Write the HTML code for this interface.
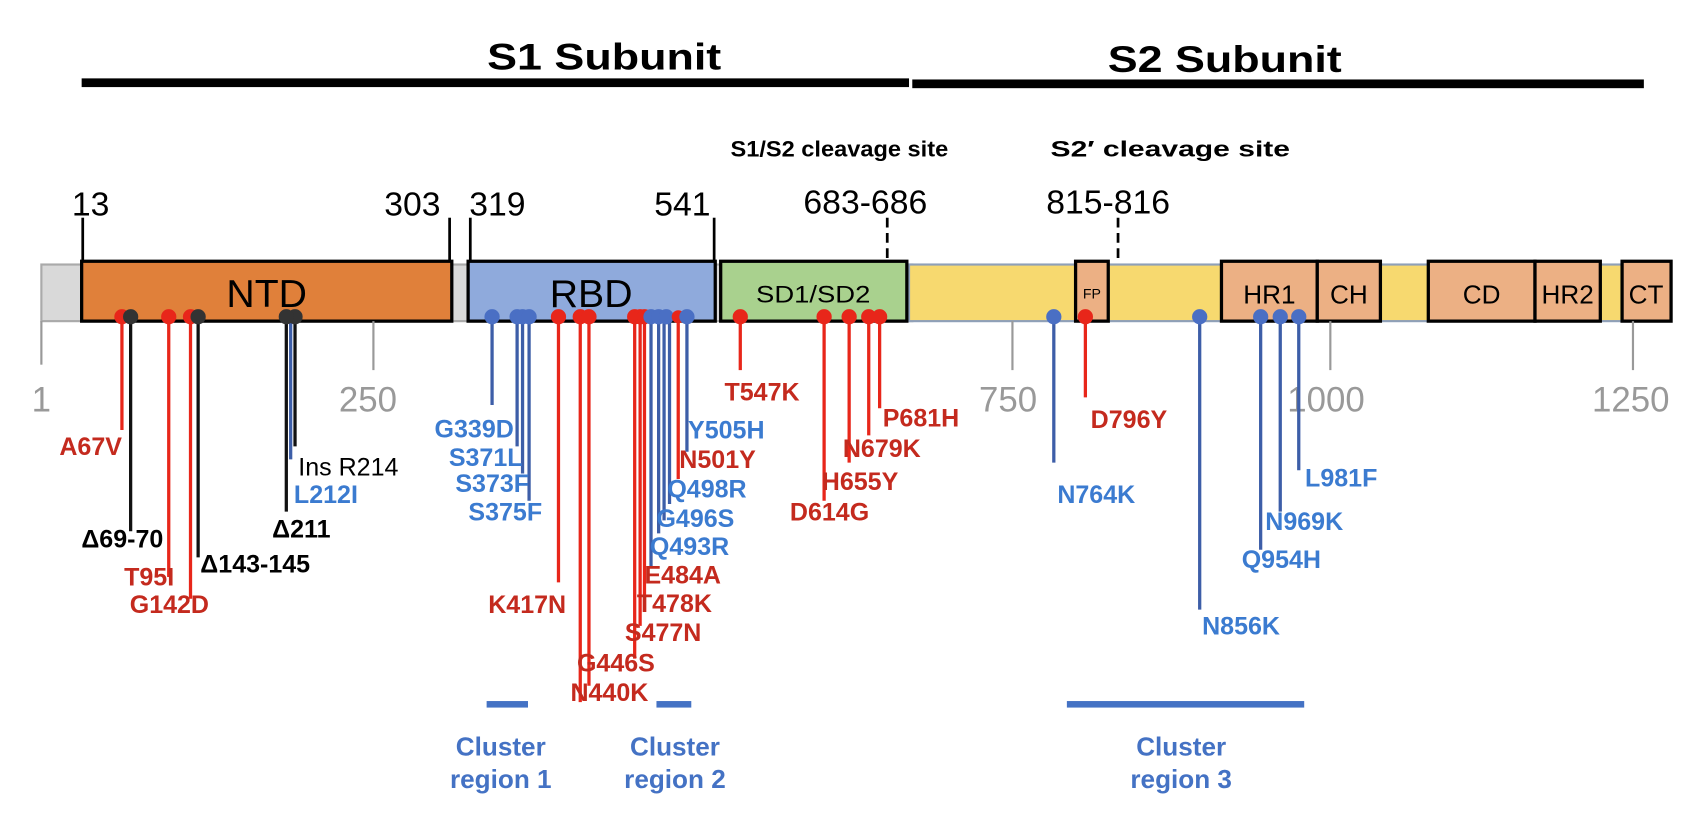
<!DOCTYPE html>
<html><head><meta charset="utf-8"><style>
html,body{margin:0;padding:0;background:#fff;}
svg{display:block;}
text{font-family:"Liberation Sans",Arial,sans-serif;}
.b{font-weight:bold;}
.r{fill:#c42a1e;font-weight:bold;font-size:23px;}
.u{fill:#3b7bd0;font-weight:bold;font-size:23px;}
.k{fill:#000;font-weight:bold;font-size:23px;}
.ax{fill:#999;font-size:32px;}
.rl{stroke:#e8261a;stroke-width:3;}
.ul{stroke:#3d5ea8;stroke-width:3;}
.kl{stroke:#111;stroke-width:3;}
.rc{fill:#e8261a;}
.uc{fill:#4a6fc4;}
.kc{fill:#333;}
</style></head><body>
<svg width="1707" height="816" viewBox="0 0 1568 749.6" preserveAspectRatio="none" xmlns="http://www.w3.org/2000/svg">
<text x="555" y="64" text-anchor="middle" class="b" font-size="34" textLength="215" lengthAdjust="spacingAndGlyphs">S1 Subunit</text>
<text x="1125" y="66" text-anchor="middle" class="b" font-size="34" textLength="215" lengthAdjust="spacingAndGlyphs">S2 Subunit</text>
<rect x="75" y="72" width="760" height="8" fill="#000"/>
<rect x="838" y="73" width="672" height="8" fill="#000"/>
<text x="771" y="144" text-anchor="middle" class="b" font-size="20" textLength="200" lengthAdjust="spacingAndGlyphs">S1/S2 cleavage site</text>
<text x="1075" y="144" text-anchor="middle" class="b" font-size="20" textLength="220" lengthAdjust="spacingAndGlyphs">S2′ cleavage site</text>

<g font-size="31" fill="#000">
<text x="66" y="198">13</text>
<text x="353" y="198">303</text>
<text x="431" y="198">319</text>
<text x="601" y="198">541</text>
<text x="738" y="196">683-686</text>
<text x="961" y="196">815-816</text>
</g>
<g stroke="#000" stroke-width="2.5">
<line x1="76" y1="200" x2="76" y2="240"/>
<line x1="413" y1="200" x2="413" y2="240"/>
<line x1="432" y1="200" x2="432" y2="240"/>
<line x1="656" y1="200" x2="656" y2="240"/>
<line x1="815" y1="200" x2="815" y2="240" stroke-dasharray="9,5"/>
<line x1="1027" y1="200" x2="1027" y2="242" stroke-dasharray="9,5"/>
</g>

<rect x="38" y="243" width="800" height="52" fill="#d9d9d9" stroke="#aaa" stroke-width="2"/>
<rect x="835" y="243" width="700" height="52" fill="#f7d96f" stroke="#8fa0b8" stroke-width="2"/>
<g stroke="#000" stroke-width="3">
<rect x="75" y="240" width="340" height="55" fill="#e0803a"/>
<rect x="430" y="240" width="227" height="55" fill="#8faadc"/>
<rect x="662" y="240" width="171" height="55" fill="#a9d18e"/>
<rect x="988" y="240" width="30" height="55" fill="#ecb084"/>
<rect x="1122" y="240" width="88" height="55" fill="#ecb084"/>
<rect x="1210" y="240" width="58" height="55" fill="#ecb084"/>
<rect x="1312" y="240" width="98" height="55" fill="#ecb084"/>
<rect x="1410" y="240" width="60" height="55" fill="#ecb084"/>
<rect x="1490" y="240" width="45" height="55" fill="#ecb084"/>
</g>
<g fill="#000">
<text x="245" y="282" text-anchor="middle" font-size="36">NTD</text>
<text x="543" y="282" text-anchor="middle" font-size="36">RBD</text>
<text x="747" y="278" text-anchor="middle" font-size="22" textLength="105" lengthAdjust="spacingAndGlyphs">SD1/SD2</text>
<text x="1003" y="274" text-anchor="middle" font-size="13">FP</text>
<text x="1166" y="279" text-anchor="middle" font-size="24">HR1</text>
<text x="1239" y="279" text-anchor="middle" font-size="24">CH</text>
<text x="1361" y="279" text-anchor="middle" font-size="24">CD</text>
<text x="1440" y="279" text-anchor="middle" font-size="24">HR2</text>
<text x="1512" y="279" text-anchor="middle" font-size="24">CT</text>
</g>

<g stroke="#999" stroke-width="2">
<line x1="38" y1="295" x2="38" y2="335"/>
<line x1="343" y1="295" x2="343" y2="340"/>
<line x1="930" y1="295" x2="930" y2="340"/>
<line x1="1222" y1="295" x2="1222" y2="340"/>
<line x1="1500" y1="295" x2="1500" y2="340"/>
</g>
<text x="38" y="378" text-anchor="middle" class="ax">1</text>
<text x="338" y="378" text-anchor="middle" class="ax">250</text>
<text x="926" y="378" text-anchor="middle" class="ax">750</text>
<text x="1218" y="378" text-anchor="middle" class="ax">1000</text>
<text x="1498" y="378" text-anchor="middle" class="ax">1250</text>

<line class="rl" x1="112" y1="292" x2="112" y2="395"/>
<line class="kl" x1="120" y1="292" x2="120" y2="488" stroke-width="2"/>
<line class="rl" x1="155" y1="292" x2="155" y2="530"/>
<line class="rl" x1="175" y1="292" x2="175" y2="550"/>
<line class="kl" x1="182" y1="292" x2="182" y2="512" stroke-width="4"/>
<line class="kl" x1="263" y1="292" x2="263" y2="470"/>
<line class="ul" x1="267" y1="292" x2="267" y2="422" stroke="#3b7bd0"/>
<line class="kl" x1="271" y1="292" x2="271" y2="410"/>
<circle class="rc" cx="112" cy="291" r="7"/><circle class="kc" cx="120" cy="291" r="7"/>
<circle class="rc" cx="155" cy="291" r="7"/><circle class="rc" cx="175" cy="291" r="7"/><circle class="kc" cx="182" cy="291" r="7"/>
<circle class="kc" cx="271" cy="291" r="7"/><circle class="kc" cx="263" cy="291" r="7"/>
<text class="r" x="112" y="418" text-anchor="end">A67V</text>
<text class="k" x="150" y="503" text-anchor="end">Δ69-70</text>
<text class="r" x="160" y="538" text-anchor="end">T95I</text>
<text class="r" x="192" y="563" text-anchor="end">G142D</text>
<text class="k" x="184" y="526">Δ143-145</text>
<text class="k" x="250" y="494">Δ211</text>
<text class="u" x="270" y="462">L212I</text>
<text x="274" y="437" font-size="23" fill="#000">Ins R214</text>

<g>
<line class="ul" x1="452" y1="292" x2="452" y2="372"/>
<line class="ul" x1="475" y1="292" x2="475" y2="410"/>
<line class="ul" x1="480" y1="292" x2="480" y2="435"/>
<line class="ul" x1="486" y1="292" x2="486" y2="460"/>
<line class="rl" x1="513" y1="292" x2="513" y2="535"/>
<line class="rl" x1="533" y1="292" x2="533" y2="645"/>
<line class="rl" x1="541" y1="292" x2="541" y2="630"/>
<line class="rl" x1="583" y1="292" x2="583" y2="605"/>
<line class="rl" x1="588" y1="292" x2="588" y2="575"/>
<line class="rl" x1="592" y1="292" x2="592" y2="548"/>
<line class="ul" x1="598" y1="292" x2="598" y2="520"/>
<line class="ul" x1="605" y1="292" x2="605" y2="490"/>
<line class="ul" x1="610" y1="292" x2="610" y2="478"/>
<line class="ul" x1="615" y1="292" x2="615" y2="463"/>
<line class="rl" x1="623" y1="292" x2="623" y2="440" stroke-width="2"/>
<line class="ul" x1="631" y1="292" x2="631" y2="415"/>
<circle class="uc" cx="452" cy="291" r="7"/><circle class="uc" cx="475" cy="291" r="7"/><circle class="uc" cx="480" cy="291" r="7"/><circle class="uc" cx="486" cy="291" r="7"/>
<circle class="rc" cx="513" cy="291" r="7"/><circle class="rc" cx="533" cy="291" r="7"/><circle class="rc" cx="541" cy="291" r="7"/>
<circle class="rc" cx="583" cy="291" r="7"/><circle class="rc" cx="588" cy="291" r="7"/><circle class="rc" cx="592" cy="291" r="7"/>
<circle class="uc" cx="598" cy="291" r="7"/><circle class="uc" cx="605" cy="291" r="7"/><circle class="uc" cx="612" cy="291" r="7"/>
<circle class="rc" cx="623" cy="291" r="6"/><circle class="uc" cx="631" cy="291" r="7"/>
</g>
<text class="u" x="472" y="402" text-anchor="end">G339D</text>
<text class="u" x="480" y="428" text-anchor="end">S371L</text>
<text class="u" x="486" y="452" text-anchor="end">S373F</text>
<text class="u" x="498" y="478" text-anchor="end">S375F</text>
<text class="r" x="520" y="563" text-anchor="end">K417N</text>
<text class="r" x="524" y="644">N440K</text>
<text class="r" x="530" y="617">G446S</text>
<text class="r" x="574" y="589">S477N</text>
<text class="r" x="585" y="562">T478K</text>
<text class="r" x="592" y="536">E484A</text>
<text class="u" x="597" y="510">Q493R</text>
<text class="u" x="603" y="484">G496S</text>
<text class="u" x="613" y="457">Q498R</text>
<text class="r" x="624" y="430">N501Y</text>
<text class="u" x="632" y="403">Y505H</text>

<line class="rl" x1="680" y1="292" x2="680" y2="340"/>
<line class="rl" x1="757" y1="292" x2="757" y2="460"/>
<line class="rl" x1="780" y1="292" x2="780" y2="425"/>
<line class="rl" x1="798" y1="292" x2="798" y2="400"/>
<line class="rl" x1="808" y1="292" x2="808" y2="375"/>
<circle class="rc" cx="680" cy="291" r="7"/><circle class="rc" cx="757" cy="291" r="7"/><circle class="rc" cx="780" cy="291" r="7"/><circle class="rc" cx="798" cy="291" r="7"/><circle class="rc" cx="808" cy="291" r="7"/>
<text class="r" x="700" y="368" text-anchor="middle">T547K</text>
<text class="r" x="762" y="478" text-anchor="middle">D614G</text>
<text class="r" x="790" y="450" text-anchor="middle">H655Y</text>
<text class="r" x="810" y="420" text-anchor="middle">N679K</text>
<text class="r" x="846" y="392" text-anchor="middle">P681H</text>

<line class="ul" x1="968" y1="292" x2="968" y2="425"/>
<line class="rl" x1="997" y1="292" x2="997" y2="365"/>
<line class="ul" x1="1102" y1="292" x2="1102" y2="560"/>
<line class="ul" x1="1158" y1="292" x2="1158" y2="505"/>
<line class="ul" x1="1176" y1="292" x2="1176" y2="470"/>
<line class="ul" x1="1193" y1="292" x2="1193" y2="432"/>
<circle class="uc" cx="968" cy="291" r="7"/><circle class="rc" cx="997" cy="291" r="7"/><circle class="uc" cx="1102" cy="291" r="7"/>
<circle class="uc" cx="1158" cy="291" r="7"/><circle class="uc" cx="1176" cy="291" r="7"/><circle class="uc" cx="1193" cy="291" r="7"/>
<text class="u" x="1007" y="462" text-anchor="middle">N764K</text>
<text class="r" x="1037" y="393" text-anchor="middle">D796Y</text>
<text class="u" x="1140" y="583" text-anchor="middle">N856K</text>
<text class="u" x="1177" y="522" text-anchor="middle">Q954H</text>
<text class="u" x="1198" y="487" text-anchor="middle">N969K</text>
<text class="u" x="1232" y="447" text-anchor="middle">L981F</text>

<rect x="447" y="644" width="38" height="6" fill="#4472c4"/>
<rect x="603" y="644" width="32" height="6" fill="#4472c4"/>
<rect x="980" y="644" width="218" height="6" fill="#4472c4"/>
<g fill="#4472c4" font-weight="bold" font-size="24" text-anchor="middle">
<text x="460" y="694">Cluster</text><text x="460" y="724">region 1</text>
<text x="620" y="694">Cluster</text><text x="620" y="724">region 2</text>
<text x="1085" y="694">Cluster</text><text x="1085" y="724">region 3</text>
</g>
</svg>
</body></html>
